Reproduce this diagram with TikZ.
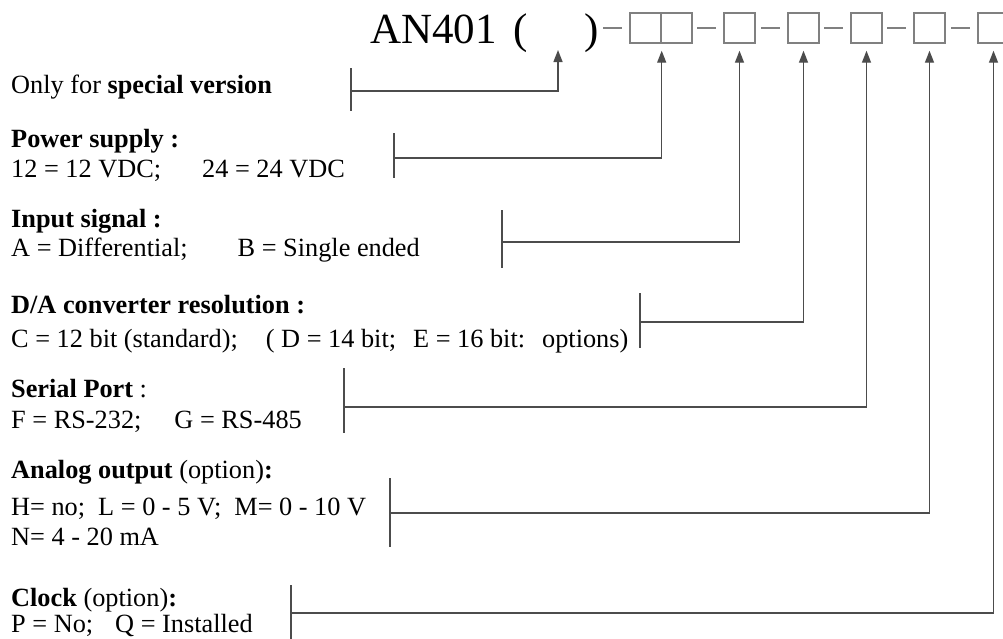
\documentclass[tikz,border=0pt]{standalone}
\usepackage{fontspec}
\setmainfont{Liberation Serif}
\usetikzlibrary{arrows.meta}

\begin{document}
\begin{tikzpicture}[x=1pt, y=-1pt,
  slotbox/.style={draw=black!50, line width=1.4pt, minimum width=31pt, minimum height=30pt, inner sep=0pt},
  joiner/.style={black!50, line width=1.6pt},
  lead/.style={black!70, line width=1.4pt},
  tip/.style={-{Triangle[length=12pt, width=9pt]}},
  title/.style={anchor=base west, inner sep=0pt, font=\fontsize{43}{48}\selectfont},
  txt/.style={anchor=base west, inner sep=0pt, font=\fontsize{26.3}{30}\selectfont}]
\useasboundingbox (0,0) rectangle (1003,638);
% part number
\node[title] (code) at (370,43) {AN401\hspace{17pt}(};
\node[title] (close) at (584,43) {)};
\coordinate (slot) at (558,43);
% option boxes
\node[slotbox] (bpa) at (645.5,28) {};
\node[slotbox] (bpb) at (676.5,28) {};
\foreach \n/\x in {b2/739.5, b3/803.5, b4/866.5, b5/929.5, b6/993.5}
  \node[slotbox] (\n) at (\x,28) {};
% dashes between the boxes
\foreach \n in {bpa,b2,b3,b4,b5,b6}
  \draw[joiner] ([xshift=-26pt]\n.west) -- ([xshift=-7pt]\n.west);
% option texts
\node[txt] (spc) at (11,93) {Only for \textbf{special version}};
\node[txt] (pwr) at (11,147) {\textbf{Power supply :}};
\node[txt] (pwrv) at (11,177) {12 = 12 VDC;\hspace{41pt}24 = 24 VDC};
\node[txt] (inp) at (11,227) {\textbf{Input signal :}};
\node[txt] (inpv) at (11,256) {A = Differential;\hspace{50pt}B = Single ended};
\node[txt] (dac) at (11,313) {\textbf{D/A converter resolution :}};
\node[txt] (dacv) at (11,347) {C = 12 bit (standard);\hspace{28pt}( D = 14 bit;\hspace{17pt}E = 16 bit:\hspace{17pt}options)};
\node[txt] (ser) at (11,397) {\textbf{Serial Port} :};
\node[txt] (serv) at (11,428) {F = RS-232;\hspace{33pt}G = RS-485};
\node[txt] (ana) at (11,478) {\textbf{Analog output} (option)\textbf{:}};
\node[txt] (anav) at (11,515) {H= no;\hspace{13pt}L = 0 - 5 V;\hspace{13pt}M= 0 - 10 V};
\node[txt] (anaw) at (11,545) {N= 4 - 20 mA};
\node[txt] (clk) at (11,606) {\textbf{Clock} (option)\textbf{:}};
\node[txt] (clkv) at (11,632) {P = No;\hspace{22pt}Q = Installed};
% leaders from the texts up to the boxes
\foreach \k/\x/\y/\u/\d/\tg in {k1/351/91/23/20/slot, k2/394/158/25/20/bpa.south east,
    k3/502/242/32/26/b2.south, k4/640/322/29/26/b3.south, k5/344/407/39/26/b4.south,
    k6/390/513/35/34/b5.south, k7/291/613/28/30/b6.south}{
  \coordinate (\k) at (\x,\y);
  \draw[lead] ([yshift=\u pt]\k) -- ([yshift=-\d pt]\k);
  \draw[lead, tip] (\k) -| ([yshift=-7pt]\tg);
}
\end{tikzpicture}
\end{document}
